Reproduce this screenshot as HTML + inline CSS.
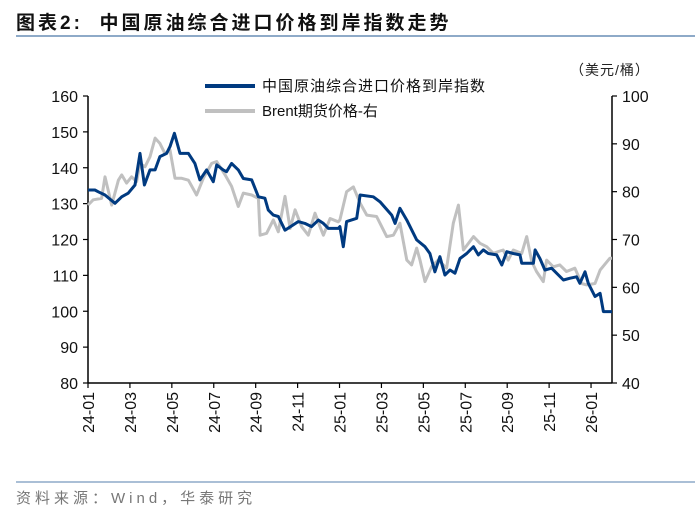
<!DOCTYPE html>
<html><head><meta charset="utf-8"><style>
body{margin:0;background:#fff;width:700px;height:514px;overflow:hidden;font-family:"Liberation Sans","Noto Sans CJK SC",sans-serif;}
</style></head><body>
<svg width="700" height="514" viewBox="0 0 700 514" id="chart" style="font-family:'Liberation Sans','Noto Sans CJK SC',sans-serif">
<text x="16" y="29" font-size="19" font-weight="bold" fill="#111" letter-spacing="3">图表2:&#160;&#160;中国原油综合进口价格到岸指数走势</text>
<line x1="16" y1="36" x2="695" y2="36" stroke="#8eaac8" stroke-width="2"/>
<text x="570" y="75" font-size="14" fill="#222" letter-spacing="1">（美元/桶）</text>
<line x1="205" y1="86" x2="255" y2="86" stroke="#003a80" stroke-width="4"/>
<text x="262" y="91" font-size="15" fill="#111" letter-spacing="1">中国原油综合进口价格到岸指数</text>
<line x1="205" y1="111" x2="255" y2="111" stroke="#c0c0c0" stroke-width="4"/>
<text x="262" y="116" font-size="15" fill="#111">Brent期货价格-右</text>
<g id="axes"></g>
<g id="series"></g>
<line x1="16" y1="482" x2="695" y2="482" stroke="#8eaac8" stroke-width="1.5"/>
<text x="16" y="503" font-size="15" fill="#777" letter-spacing="4">资料来源：Wind，华泰研究</text>
</svg>
<script>
const xTickLabels=["24-01","24-03","24-05","24-07","24-09","24-11","25-01","25-03","25-05","25-07","25-09","25-11","26-01"];
const leftTicks=[80,90,100,110,120,130,140,150,160];
const rightTicks=[40,50,60,70,80,90,100];
const indexMonths=[0,0.33,0.49,0.81,1.29,1.61,1.92,2.24,2.48,2.69,2.96,3.2,3.43,3.75,3.91,4.12,4.39,4.79,5.1,5.34,5.66,5.98,6.14,6.45,6.61,6.85,7.17,7.41,7.81,8.13,8.44,8.6,8.84,9.08,9.4,10.03,10.35,10.67,10.99,11.23,11.47,11.94,12.02,12.18,12.34,12.82,12.98,13.61,13.93,14.49,14.65,14.88,15.21,15.68,16.08,16.31,16.55,16.79,17.03,17.27,17.51,17.75,18.07,18.39,18.62,18.86,19.1,19.5,19.74,19.98,20.29,20.61,20.69,21.25,21.33,21.56,21.8,22.12,22.68,23,23.31,23.47,23.71,23.87,24.19,24.43,24.59,25.06];
const indexValues=[133.8,133.8,133.3,132.4,130.1,131.9,132.9,135.2,144,135.2,139.4,139.4,143.1,144,145.9,149.6,144,144,141.2,136.6,139.4,136.1,140.8,139.4,138.9,141.2,139.4,137,136.6,131.9,131.5,128.2,126.8,126.4,122.6,125,124.5,123.6,125.4,124.5,123.1,123.1,123.6,118,125,125.9,132.4,131.9,130.5,126.8,124.5,128.7,125.4,119.9,118,116.1,111,115.2,110.1,111.5,110.6,114.7,116.1,118,115.7,117.1,116.1,115.7,112.9,116.6,116.1,115.7,113.4,113.4,117.1,114.7,111.5,112,108.7,109.2,109.6,107.8,111,107.8,104.1,105,99.9,99.9];
const brentMonths=[0,0.25,0.65,0.81,1.13,1.45,1.61,1.84,2.08,2.32,2.48,2.72,2.96,3.2,3.43,3.67,3.91,4.15,4.47,4.79,5.18,5.5,5.9,6.14,6.54,6.85,7.17,7.41,7.81,8.13,8.21,8.52,8.84,9.08,9.4,9.64,9.88,10.19,10.51,10.83,11.07,11.23,11.55,11.94,12.02,12.34,12.66,12.98,13.3,13.77,14.25,14.57,14.88,15.21,15.44,15.68,15.84,16.08,16.39,16.71,17.11,17.43,17.67,17.91,18.39,18.7,19.02,19.34,19.58,19.81,20.05,20.29,20.69,20.93,21.17,21.4,21.72,21.88,22.2,22.51,22.83,23.23,23.55,23.79,24.19,24.43,24.9,25.14];
const brentValues=[77.2,78.3,78.6,83.1,77.2,82.4,83.5,81.8,83.1,82.1,85.9,85.2,87.3,91.2,90.1,88,88.7,82.8,82.8,82.4,79.3,82.8,85.9,86.3,83.5,81.1,76.9,79.7,79.3,78.6,70.9,71.3,74.1,71.6,79,72.3,76.2,72.7,70.9,75.5,72.7,70.9,74.4,73.7,74.1,80,81,77.6,75.1,74.8,70.6,70.9,73.4,65.7,64.7,68.2,65.7,61.2,64.3,65.7,64,73.4,77.2,67.8,70.6,69.2,68.5,67.1,67.5,67.8,65.7,67.8,67.1,70.6,65.4,63.3,61.2,65.7,64.3,64.7,63.3,64,60.8,60.5,60.8,63.6,66.1,66.1];

const NS="http://www.w3.org/2000/svg";
const X0=88,X1=612,YT=96,YB=383,MW=20.96;
function x(m){return Math.min(X1,X0+m*MW);}
function yL(v){return YB-(v-80)/80*(YB-YT);}
function yR(v){return YB-(v-40)/60*(YB-YT);}
function mk(tag,attrs,parent){const e=document.createElementNS(NS,tag);for(const k in attrs)e.setAttribute(k,attrs[k]);parent.appendChild(e);return e;}
const axes=document.getElementById('axes'),series=document.getElementById('series');
let e;
e=mk('line',{x1:X0,y1:YT,x2:X0,y2:YB,stroke:'#000','stroke-width':1.5},axes);


e=mk('line',{x1:X1,y1:YT,x2:X1,y2:YB,stroke:'#000','stroke-width':1.5},axes);


e=mk('line',{x1:X0,y1:YB,x2:X1,y2:YB,stroke:'#000','stroke-width':1.5},axes);


leftTicks.forEach(v=>{
  mk('line',{x1:X0-5,y1:yL(v),x2:X0,y2:yL(v),stroke:'#000','stroke-width':1.2},axes);
  e=mk('text',{x:X0-10,y:yL(v)+6,'text-anchor':'end','font-size':16,fill:'#111'},axes);
  e.textContent=v;
  
  
});
rightTicks.forEach(v=>{
  mk('line',{x1:X1,y1:yR(v),x2:X1+5,y2:yR(v),stroke:'#000','stroke-width':1.2},axes);
  e=mk('text',{x:X1+10,y:yR(v)+6,'font-size':16,fill:'#111'},axes);
  e.textContent=v;
  
  
});
xTickLabels.forEach((l,i)=>{
  const xx=x(i*2);
  mk('line',{x1:xx,y1:YB,x2:xx,y2:YB+5,stroke:'#000','stroke-width':1.2},axes);
  e=mk('text',{x:0,y:0,'text-anchor':'end','font-size':16,fill:'#111',transform:`translate(${xx+6},${YB+9}) rotate(-90)`},axes);
  e.textContent=l;
  
  
});
function path(ms,vs,yf){return ms.map((m,i)=>(i?'L':'M')+x(m).toFixed(1)+','+yf(vs[i]).toFixed(1)).join(' ');}
e=mk('path',{d:path(brentMonths,brentValues,yR),fill:'none',stroke:'#c0c0c0','stroke-width':3,'stroke-linejoin':'round'},series);


e=mk('path',{d:path(indexMonths,indexValues,yL),fill:'none',stroke:'#003a80','stroke-width':3,'stroke-linejoin':'round'},series);


</script>
</body></html>
